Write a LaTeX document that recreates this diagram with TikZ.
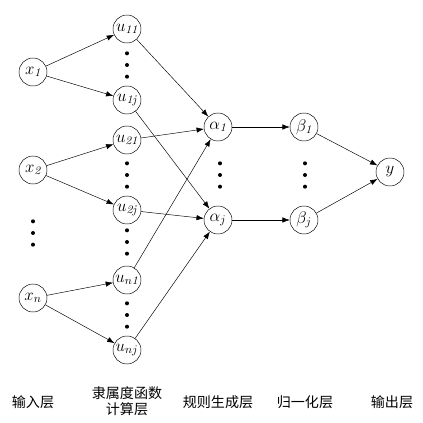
\documentclass[tikz,border=0pt]{standalone}
\usepackage{amsmath}
\usepackage{fontspec}
\newfontfamily\cjk{Noto Sans CJK SC}
\usetikzlibrary{arrows.meta}

\tikzset{
    neuron/.style={draw, circle, minimum size=0.84cm, inner sep=0pt, font=\Large},
    link/.style={-{Latex[length=2.2mm,width=1.6mm]}, thin},
    layername/.style={font=\cjk\large, align=center}
}

\begin{document}
\begin{tikzpicture}
    \useasboundingbox (0,0) rectangle (12.69,12.66);

    % Draw the input layer
    \node[neuron] (x1) at (0.99,10.5) {$x_{\mathit{1}}$};
    \node[neuron] (x2) at (0.99,7.56) {$x_{\mathit{2}}$};
    \node[neuron] (xn) at (0.99,3.72) {$x_n$};

    % Draw the membership layer
    \node[neuron] (u11) at (3.81,11.79) {$u_{\mathit{11}}$};
    \node[neuron] (u1j) at (3.81,9.66) {$u_{\mathit{1j}}$};
    \node[neuron] (u21) at (3.81,8.46) {$u_{\mathit{21}}$};
    \node[neuron] (u2j) at (3.81,6.36) {$u_{\mathit{2j}}$};
    \node[neuron] (un1) at (3.81,4.26) {$u_{n\mathit{1}}$};
    \node[neuron] (unj) at (3.81,2.16) {$u_{nj}$};

    % Draw the rule, normalization and output layers
    \node[neuron] (a1) at (6.54,8.85) {$\alpha_{\mathit{1}}$};
    \node[neuron] (aj) at (6.54,6.06) {$\alpha_j$};
    \node[neuron] (b1) at (9.12,8.85) {$\beta_{\mathit{1}}$};
    \node[neuron] (bj) at (9.12,6.06) {$\beta_j$};
    \node[neuron] (y) at (11.7,7.5) {$y$};

    % Draw the vertical dots
    \foreach \x/\y in {3.81/10.71, 3.81/7.41, 3.81/5.4, 3.81/3.21, 0.99/5.67, 6.6/7.41, 9.15/7.41} {
        \foreach \d in {-0.35,0,0.35}
            \fill (\x,\y+\d) circle (0.06);
    }

    % Draw the connections
    \foreach \i in {1,2,n} {
        \draw[link] (x\i) -- (u\i1);
        \draw[link] (x\i) -- (u\i j);
        \draw[link] (u\i1) -- (a1);
        \draw[link] (u\i j) -- (aj);
    }
    \draw[link] (a1) -- (b1);
    \draw[link] (aj) -- (bj);
    \draw[link] (b1) -- (y);
    \draw[link] (bj) -- (y);

    % Draw the layer names
    \node[layername] (l1) at (0.99,0.6) {输入层};
    \node[layername] (l2) at (3.81,0.63) {隶属度函数\\计算层};
    \node[layername] (l3) at (6.54,0.6) {规则生成层};
    \node[layername] (l4) at (9.15,0.6) {归一化层};
    \node[layername] (l5) at (11.76,0.6) {输出层};

\end{tikzpicture}
\end{document}
